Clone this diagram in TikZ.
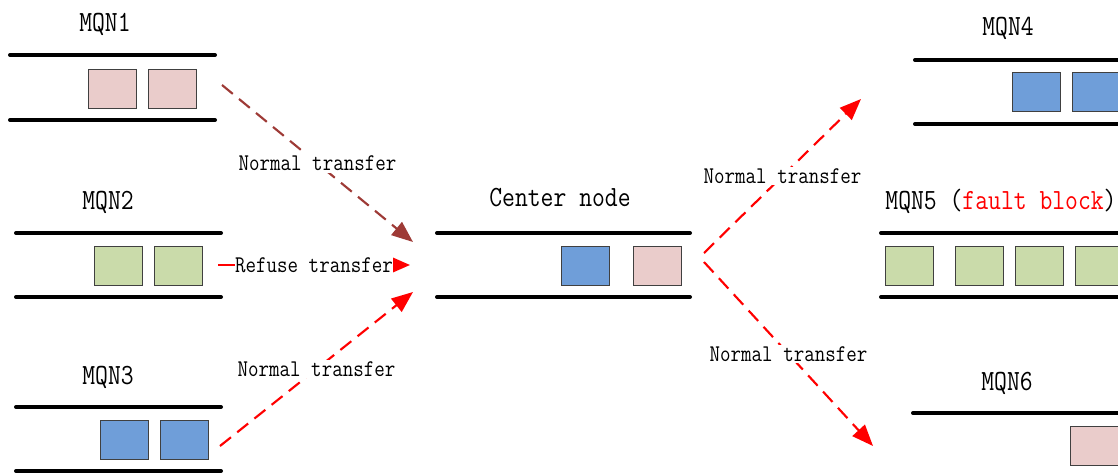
\documentclass[tikz,border=0pt]{standalone}
\usepackage{fontspec}
\usetikzlibrary{arrows.meta}
\definecolor{pinkq}{HTML}{EACCCB}
\definecolor{greenq}{HTML}{CADBAA}
\definecolor{blueq}{HTML}{6F9ED9}
\definecolor{boxline}{HTML}{404040}
\definecolor{brownarr}{HTML}{9E3A36}
\newcommand{\cnd}[1]{\scalebox{0.85}[1]{#1}}
\begin{document}
\begin{tikzpicture}[x=0.75pt,y=-0.75pt,
  bar/.style={line width=3pt,line cap=round},
  qbox/.style={draw=boxline,line width=0.7pt,minimum width=36pt,minimum height=29.25pt,inner sep=0pt,anchor=north west},
  ttl/.style={font=\fontsize{22}{24}\selectfont\ttfamily,anchor=base,inner sep=0pt},
  lbl/.style={font=\fontsize{18}{20}\selectfont\ttfamily,text=black,fill=white,inner sep=1.5pt},
  flow/.style={line width=1.6pt,dash pattern=on 10.5pt off 6pt,-{Triangle[length=16pt,width=12.5pt]}},
  flowR/.style={flow,red},
  flowB/.style={flow,brownarr}]
\useasboundingbox (0,0) rectangle (1118,475);
\clip (0,0) rectangle (1118,475);
% MQN1
\node[ttl] (t1) at (105,31) {\cnd{MQN1}};
\draw[bar] (10,55) -- (215,55);
\draw[bar] (10,120) -- (215,120);
\node[qbox,fill=pinkq] (q1a) at (88,69) {};
\node[qbox,fill=pinkq] (q1b) at (148,69) {};
% MQN2
\node[ttl] (t2) at (108,209) {\cnd{MQN2}};
\draw[bar] (16,233) -- (221,233);
\draw[bar] (16,297) -- (221,297);
\node[qbox,fill=greenq] (q2a) at (94,246) {};
\node[qbox,fill=greenq] (q2b) at (154,246) {};
% MQN3
\node[ttl] (t3) at (108,384) {\cnd{MQN3}};
\draw[bar] (16,407) -- (221,407);
\draw[bar] (16,471) -- (221,471);
\node[qbox,fill=blueq] (q3a) at (100,420) {};
\node[qbox,fill=blueq] (q3b) at (160,420) {};
% Center
\node[ttl] (tc) at (560,206) {\cnd{Center node}};
\draw[bar] (437,233) -- (690,233);
\draw[bar] (437,297) -- (690,297);
\node[qbox,fill=blueq] (qca) at (561,246) {};
\node[qbox,fill=pinkq] (qcb) at (633,246) {};
% MQN4
\node[ttl] (t4) at (1008,35) {\cnd{MQN4}};
\draw[bar] (915,60) -- (1130,60);
\draw[bar] (915,124) -- (1130,124);
\node[qbox,fill=blueq] (q4a) at (1012,72) {};
\node[qbox,fill=blueq] (q4b) at (1072,72) {};
% MQN5
\node[ttl] (t5) at (1001,209) {\cnd{MQN5 (\textcolor{red}{fault block})}};
\draw[bar] (881,233) -- (1130,233);
\draw[bar] (881,297) -- (1130,297);
\node[qbox,fill=greenq] (q5a) at (885,246) {};
\node[qbox,fill=greenq] (q5b) at (955,246) {};
\node[qbox,fill=greenq] (q5c) at (1015,246) {};
\node[qbox,fill=greenq] (q5d) at (1075,246) {};
% MQN6
\node[ttl] (t6) at (1007,390) {\cnd{MQN6}};
\draw[bar] (913,413) -- (1130,413);
\node[qbox,fill=pinkq] (q6a) at (1070,426) {};
% connector end points
\coordinate (s1) at (222,85);
\coordinate (e1) at (413,242);
\coordinate (s2) at (218,265);
\coordinate (e2) at (410,265);
\coordinate (s3) at (220,446);
\coordinate (e3) at (413,292);
\coordinate (s4) at (704,253);
\coordinate (e4) at (861,99);
\coordinate (s5) at (704,262);
\coordinate (e5) at (873,446);
% arrows
\draw[flowB] (s1) -- node[lbl] (l1) {\cnd{Normal transfer}} (e1);
\draw[red,line width=1.6pt,-{Triangle[length=13pt,width=11pt]}] (s2) -- node[lbl,inner sep=0.3pt] (l2) {\cnd{Refuse transfer}} (e2);
\draw[flowR] (s3) -- node[lbl] (l3) {\cnd{Normal transfer}} (e3);
\draw[flowR] (s4) -- node[lbl] (l4) {\cnd{Normal transfer}} (e4);
\draw[flowR] (s5) -- node[lbl] (l5) {\cnd{Normal transfer}} (e5);
\end{tikzpicture}
\end{document}
